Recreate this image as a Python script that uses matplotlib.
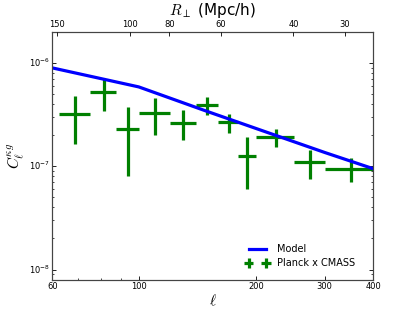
import matplotlib
matplotlib.use("Agg")
import matplotlib.pyplot as plt
import numpy as np
from matplotlib.ticker import FixedLocator, FixedFormatter, NullFormatter

plt.style.use('classic')

# Data
model_ell = [60, 100, 150, 200, 300, 400]
model_cl = [8.95e-7, 5.86e-7, 3.39e-7, 2.32e-7, 1.36e-7, 9.46e-8]

bin_lo = [62.5, 75, 87.5, 100, 120, 140, 160, 180, 200, 250, 300]
bin_hi = [75, 87.5, 100, 120, 140, 160, 180, 200, 250, 300, 400]
data_cl = [3.21e-7, 5.2e-7, 2.27e-7, 3.29e-7, 2.63e-7, 3.93e-7, 2.67e-7, 1.25e-7, 1.91e-7, 1.09e-7, 9.46e-8]
data_err = [1.58e-7, 1.76e-7, 1.46e-7, 1.30e-7, 0.84e-7, 0.78e-7, 0.56e-7, 0.65e-7, 0.36e-7, 0.34e-7, 0.245e-7]

x_ticks = [60, 100, 200, 300, 400]
x_minor = [70, 80, 90]
r_ticks = [150, 100, 80, 60, 40, 30]

lo = np.array(bin_lo)
hi = np.array(bin_hi)
centers = 0.5 * (lo + hi)
xerr = 0.5 * (hi - lo)

fig = plt.figure(figsize=(4.15, 3.12), dpi=100, facecolor='white')
ax = fig.add_axes([0.126, 0.104, 0.7735, 0.794])
ax.set_facecolor('white')

ax.plot(model_ell, model_cl, color='b', lw=2.3, label='Model', zorder=3)
ax.errorbar(centers, data_cl, xerr=xerr, yerr=data_err, fmt='none', ecolor='g',
            elinewidth=2.3, capsize=0, label='Planck x CMASS', zorder=2)

ax.set_xscale('log')
ax.set_yscale('log')
ax.set_xlim(60, 400)
ax.set_ylim(8e-9, 2e-6)

ax.xaxis.set_major_locator(FixedLocator(x_ticks))
ax.xaxis.set_major_formatter(FixedFormatter([str(t) for t in x_ticks]))
ax.xaxis.set_minor_locator(FixedLocator(x_minor))
ax.xaxis.set_minor_formatter(NullFormatter())
ax.tick_params(axis='both', which='major', labelsize=6, length=3, width=0.6)
ax.tick_params(axis='both', which='minor', length=1.5, width=0.5)
ax.tick_params(axis='x', which='both', top=False)
ax.tick_params(axis='x', which='major', pad=2)
ax.tick_params(axis='y', which='major', pad=2)
for s in ax.spines.values():
    s.set_linewidth(0.8)
    s.set_color('#444444')

ax.set_xlabel(r'$\ell$', fontsize=11, labelpad=1)
ax.set_ylabel(r'$C_\ell^{\kappa g}$', fontsize=11, labelpad=1)

leg = ax.legend(loc='lower right', frameon=False, fontsize=7, numpoints=2,
                handlelength=2.4, handletextpad=0.8, labelspacing=0.4,
                bbox_to_anchor=(0.97, 0.01))

ax2 = ax.twiny()
ax2.set_xscale('log')
ax2.set_xlim(154, 25.6)
ax2.xaxis.set_major_locator(FixedLocator(r_ticks))
ax2.xaxis.set_major_formatter(FixedFormatter([str(t) for t in r_ticks]))
ax2.xaxis.set_minor_locator(FixedLocator([]))
ax2.tick_params(axis='x', which='major', labelsize=6, length=3, width=0.6, pad=2)
ax2.set_xlabel(r'$R_\perp$ (Mpc/h)', fontsize=11, labelpad=3.5)
for s in ax2.spines.values():
    s.set_linewidth(0.8)
    s.set_color('#444444')

fig.savefig('out.png', dpi=100, facecolor='white')
